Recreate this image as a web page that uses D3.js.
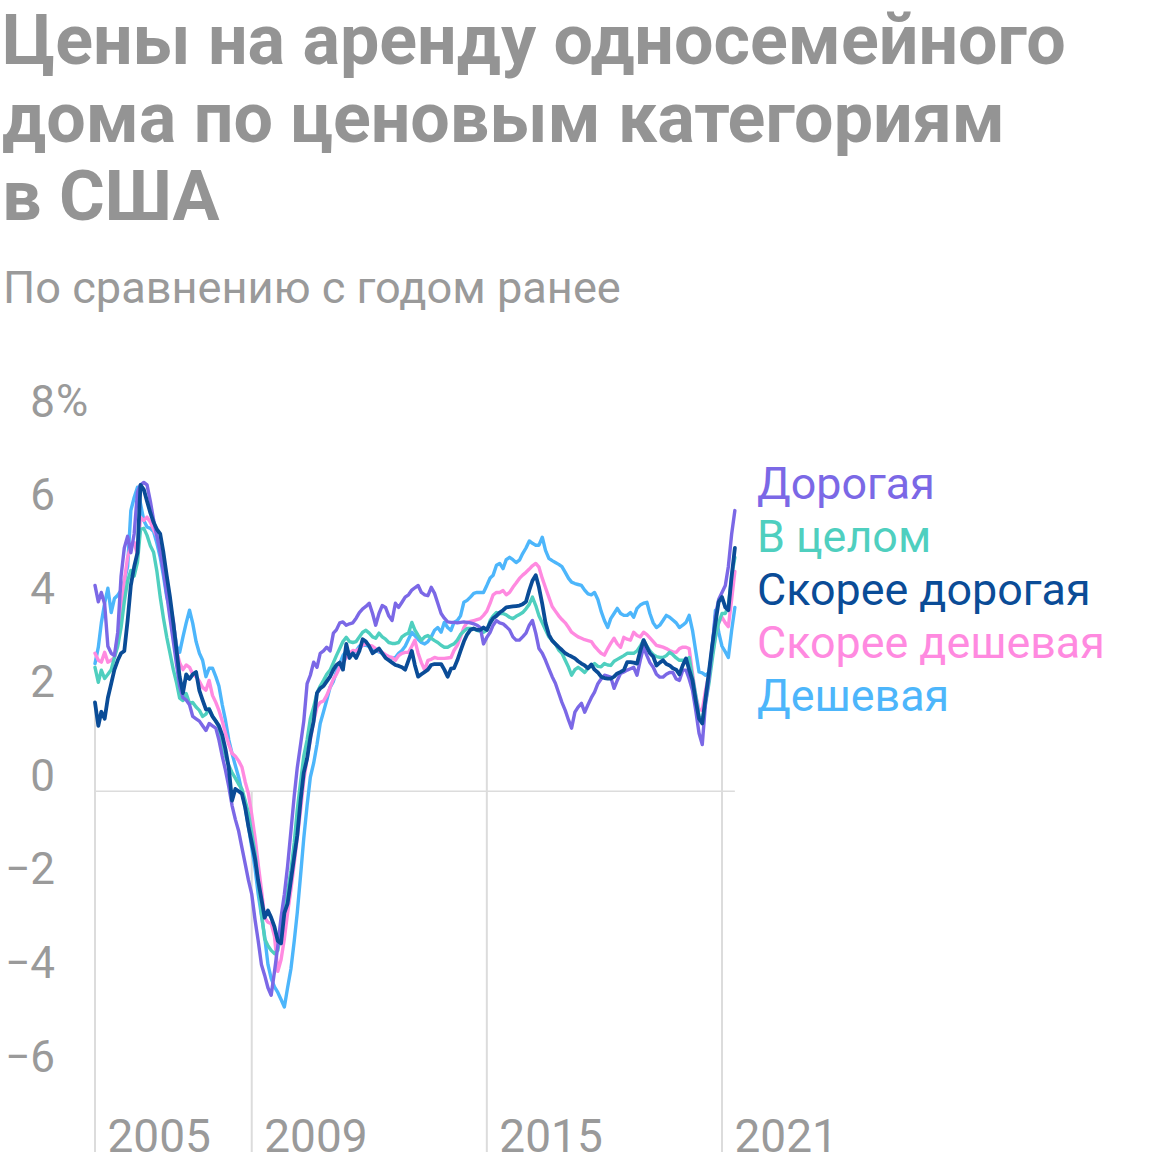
<!DOCTYPE html>
<html><head><meta charset="utf-8">
<script src="https://cdn.jsdelivr.net/npm/d3@7"></script>
<style>
body{margin:0;background:#fff}
svg{display:block}
text{font-family:Roboto,"Noto Sans",sans-serif}
</style>
</head><body>
<svg id="chart" width="1160" height="1168"></svg>
<script>
// Monthly data, Jan 2005 .. May 2021, % change year over year
const firstMonth = [2005, 0];

const expensive = [
 4.4, 4.05, 4.25, 4.0, 3.1, 2.95, 2.9, 3.4, 4.6, 5.2, 5.45, 5.1,
 5.5, 6.4, 6.55, 6.6, 6.55, 6.2, 5.8, 5.45, 5.1, 4.7, 4.2, 3.7,
 3.2, 2.7, 2.25, 2.0, 1.95, 1.85, 1.6, 1.55, 1.5, 1.4, 1.3, 1.45,
 1.4, 1.35, 1.1, 0.75, 0.45, 0.1, -0.3, -0.6, -0.85, -1.2, -1.55, -1.9,
 -2.2, -2.75, -3.18, -3.7, -3.93, -4.2, -4.36, -3.85, -3.3, -2.7, -2.2, -1.6,
 -0.85, -0.1, 0.5, 1.0, 1.5, 2.3, 2.48, 2.76, 2.65, 2.95, 3.0, 3.08,
 3.0, 3.38, 3.45, 3.6, 3.62, 3.55, 3.58, 3.6, 3.7, 3.82, 3.9, 3.95,
 4.02, 3.8, 3.55, 3.8, 3.97, 3.93, 3.75, 3.65, 4.02, 3.93, 4.04, 4.15,
 4.2, 4.3, 4.35, 4.4, 4.25, 4.2, 4.18, 4.36, 4.23, 4.02, 3.8, 3.7,
 3.62, 3.61, 3.61, 3.6, 3.61, 3.62, 3.61, 3.6, 3.58, 3.55, 3.5, 3.15,
 3.29, 3.4, 3.55, 3.65, 3.6, 3.58, 3.52, 3.45, 3.3, 3.23, 3.23, 3.3,
 3.38, 3.55, 3.65, 3.38, 3.05, 2.95, 2.8, 2.62, 2.45, 2.31, 2.1, 1.9,
 1.73, 1.52, 1.35, 1.69, 1.8, 1.88, 1.69, 1.85, 2.0, 2.12, 2.3, 2.4,
 2.48, 2.46, 2.44, 2.2, 2.37, 2.52, 2.55, 2.59, 2.62, 2.65, 2.48, 2.8,
 3.08, 2.9, 2.75, 2.65, 2.5, 2.44, 2.44, 2.5, 2.54, 2.54, 2.4, 2.37,
 2.59, 2.59, 2.4, 2.16, 1.73, 1.24, 1.0, 1.9, 2.4, 3.1, 3.75, 4.1,
 4.25, 4.4, 4.8, 5.5, 6.0
];

const overall = [
 2.65, 2.33, 2.59, 2.41, 2.5, 2.6, 2.86, 3.1, 3.5, 4.05, 4.5, 4.72,
 4.6, 4.9, 5.6, 5.62, 5.47, 5.25, 5.11, 4.7, 4.15, 3.7, 3.29, 2.95,
 2.6, 2.31, 1.99, 1.94, 2.09, 1.88, 1.9, 1.8, 1.73, 1.6, 1.65, 1.77,
 1.6, 1.5, 1.37, 1.0, 0.75, 0.55, 0.4, 0.28, 0.15, 0.05, -0.2, -0.47,
 -0.9, -1.33, -1.9, -2.6, -3.15, -3.3, -3.4, -3.47, -3.4, -3.0, -2.6, -2.15,
 -1.7, -1.1, -0.4, 0.2, 0.75, 1.1, 1.55, 1.8, 2.1, 2.25, 2.37, 2.5,
 2.59, 2.75, 2.9, 3.05, 3.2, 3.29, 3.2, 3.18, 3.2, 3.3, 3.4, 3.44,
 3.38, 3.3, 3.27, 3.38, 3.3, 3.25, 3.18, 3.16, 3.16, 3.18, 3.3, 3.35,
 3.38, 3.61, 3.45, 3.33, 3.23, 3.3, 3.33, 3.27, 3.22, 3.18, 3.12, 3.08,
 3.08, 3.12, 3.15, 3.23, 3.35, 3.42, 3.48, 3.48, 3.47, 3.44, 3.42, 3.4,
 3.44, 3.65, 3.75, 3.82, 3.8, 3.8, 3.77, 3.72, 3.69, 3.74, 3.78, 3.82,
 3.9, 4.0, 4.15, 3.97, 3.75, 3.6, 3.45, 3.3, 3.23, 3.15, 3.02, 2.95,
 2.8, 2.65, 2.48, 2.6, 2.65, 2.6, 2.54, 2.63, 2.68, 2.73, 2.67, 2.66,
 2.73, 2.7, 2.69, 2.78, 2.82, 2.86, 2.9, 2.95, 2.95, 2.95, 3.0, 3.1,
 3.23, 3.1, 3.0, 2.92, 2.88, 2.86, 2.86, 2.9, 2.97, 2.92, 2.85, 2.8,
 2.8, 2.8, 2.86, 2.44, 2.05, 1.6, 1.52, 1.88, 2.3, 2.8, 3.3, 3.6,
 3.8, 3.8, 3.97, 4.6, 5.0
];

const ratherExpensive = [
 1.9, 1.4, 1.7, 1.55, 2.0, 2.3, 2.6, 2.8, 2.95, 3.0, 3.65, 4.4,
 4.8, 5.1, 6.55, 6.45, 6.2, 5.95, 5.75, 5.6, 5.5, 5.1, 4.6, 4.15,
 3.6, 3.0, 2.45, 2.1, 2.5, 2.4, 2.5, 2.55, 2.15, 1.95, 1.75, 1.75,
 1.6, 1.5, 1.4, 1.2, 0.9, 0.5, -0.2, 0.05, 0.0, -0.05, -0.35, -0.75,
 -1.1, -1.45, -1.9, -2.3, -2.7, -2.55, -2.7, -2.9, -3.2, -3.25, -2.6, -2.4,
 -1.9, -1.4, -0.95, -0.2, 0.4, 0.7, 1.15, 1.5, 2.1, 2.2, 2.25, 2.35,
 2.45, 2.6, 2.7, 2.75, 2.6, 3.15, 2.85, 2.95, 2.85, 3.0, 3.25, 3.2,
 3.1, 2.95, 3.0, 3.05, 2.95, 2.85, 2.8, 2.75, 2.7, 2.68, 2.65, 2.6,
 2.8, 3.0, 2.7, 2.45, 2.5, 2.55, 2.6, 2.7, 2.72, 2.72, 2.72, 2.6,
 2.45, 2.62, 2.63, 2.8, 3.0, 3.2, 3.35, 3.45, 3.48, 3.45, 3.45, 3.5,
 3.45, 3.6, 3.7, 3.75, 3.82, 3.87, 3.93, 3.94, 3.95, 3.96, 3.97, 4.0,
 4.05, 4.3, 4.5, 4.62, 4.36, 4.0, 3.6, 3.35, 3.22, 3.15, 3.08, 3.02,
 2.95, 2.91, 2.88, 2.84, 2.78, 2.73, 2.69, 2.63, 2.71, 2.6, 2.54, 2.45,
 2.42, 2.41, 2.41, 2.45, 2.52, 2.55, 2.59, 2.76, 2.76, 2.75, 2.73, 3.0,
 3.23, 3.08, 2.95, 2.88, 2.69, 2.75, 2.8, 2.72, 2.69, 2.63, 2.6, 2.5,
 2.69, 2.84, 2.6, 2.37, 1.94, 1.55, 1.45, 2.0, 2.55, 3.1, 3.6, 4.05,
 4.15, 3.93, 3.87, 4.6, 5.2
];

const ratherCheap = [
 2.95, 2.8, 2.76, 2.97, 2.76, 2.8, 2.86, 3.3, 3.8, 4.5, 5.0, 5.25,
 5.32, 5.05, 5.86, 5.79, 5.86, 5.75, 5.6, 5.45, 5.2, 4.85, 4.5, 4.0,
 3.65, 3.0, 2.75, 2.6, 2.7, 2.65, 2.5, 2.45, 2.35, 2.22, 2.16, 2.37,
 2.05, 1.9, 1.73, 1.5, 1.24, 1.0, 0.81, 0.75, 0.65, 0.52, 0.2, -0.05,
 -0.5, -1.0, -1.54, -2.1, -2.7, -2.8, -2.83, -3.1, -3.85, -3.6, -3.15, -2.6,
 -2.1, -1.54, -1.0, -0.4, 0.24, 0.7, 1.1, 1.5, 1.8, 1.9, 1.93, 2.05,
 2.22, 2.4, 2.5, 2.65, 2.75, 2.86, 2.95, 3.01, 3.0, 3.05, 3.12, 3.16,
 3.12, 3.1, 3.05, 3.0, 2.97, 2.92, 2.88, 2.86, 2.8, 2.9, 2.95, 2.97,
 2.97, 3.1, 3.23, 2.95, 2.75, 2.59, 2.8, 2.82, 2.86, 2.84, 2.84, 2.84,
 2.85, 2.86, 3.01, 3.12, 3.3, 3.5, 3.61, 3.63, 3.65, 3.67, 3.69, 3.76,
 3.85, 4.02, 4.2, 4.25, 4.25, 4.29, 4.2, 4.25, 4.36, 4.45, 4.55, 4.62,
 4.68, 4.75, 4.82, 4.87, 4.79, 4.55, 4.35, 4.15, 3.95, 3.85, 3.75, 3.67,
 3.6, 3.5, 3.4, 3.35, 3.3, 3.27, 3.24, 3.22, 3.2, 3.1, 3.02, 2.95,
 2.91, 3.05, 3.16, 3.27, 3.15, 3.08, 3.29, 3.25, 3.23, 3.4, 3.33, 3.3,
 3.4, 3.35, 3.28, 3.2, 3.12, 3.1, 3.08, 3.05, 3.01, 2.98, 2.97, 3.05,
 3.08, 3.08, 3.05, 2.52, 2.05, 1.75, 1.73, 2.16, 2.5, 2.9, 3.3, 3.6,
 3.72, 3.6, 3.52, 4.1, 4.7
];

const cheap = [
 2.73, 3.08, 3.6, 4.02, 4.34, 3.82, 4.12, 4.19, 4.3, 4.5, 4.8, 6.0,
 6.28, 6.5, 6.15, 5.79, 5.65, 5.62, 5.55, 5.3, 5.0, 4.6, 4.15, 3.9,
 3.6, 3.1, 2.97, 3.3, 3.6, 3.87, 3.59, 3.2, 2.95, 2.8, 2.45, 2.63,
 2.63, 2.45, 2.25, 1.85, 1.52, 1.1, 0.81, 0.55, 0.3, 0.0, -0.34, -0.75,
 -1.2, -1.65, -2.18, -2.65, -3.1, -3.7, -4.0, -4.18, -4.3, -4.45, -4.61, -4.2,
 -3.8, -3.2, -2.6, -1.8, -1.0, -0.3, 0.3, 0.6, 1.0, 1.45, 1.7, 1.95,
 2.22, 2.35, 2.55, 2.73, 2.9, 3.0, 2.97, 2.95, 3.0, 3.1, 3.12, 3.12,
 3.1, 3.05, 3.01, 2.98, 2.95, 2.9, 2.86, 2.84, 2.86, 2.95, 3.01, 3.1,
 3.25, 3.4, 3.33, 3.25, 3.18, 3.15, 3.2, 3.3, 3.44, 3.5, 3.4, 3.61,
 3.5, 3.44, 3.61, 3.65, 3.75, 4.04, 4.08, 4.15, 4.23, 4.25, 4.25, 4.25,
 4.4, 4.56, 4.62, 4.83, 4.87, 4.76, 4.95, 5.0, 4.95, 4.89, 4.94, 5.08,
 5.2, 5.35, 5.3, 5.26, 5.26, 5.43, 5.15, 4.98, 4.93, 4.89, 4.85, 4.8,
 4.68, 4.55, 4.47, 4.44, 4.42, 4.4, 4.3, 4.22, 4.2, 4.25, 4.1, 3.85,
 3.65, 3.5, 3.69, 3.8, 3.91, 3.8, 3.76, 3.76, 3.82, 3.72, 3.91, 3.98,
 4.02, 4.04, 3.8, 3.6, 3.5, 3.55, 3.65, 3.76, 3.72, 3.66, 3.6, 3.5,
 3.55, 3.61, 3.76, 3.44, 3.0, 2.55, 2.53, 2.48, 2.54, 3.01, 3.87, 3.4,
 3.1, 2.98, 2.86, 3.44, 3.93
];

const seriesNames = ["Дорогая", "В целом", "Скорее дорогая", "Скорее дешевая", "Дешевая"];
const seriesColors = ["#7b68e6", "#4fcfbf", "#0a4c97", "#ff8ae0", "#4db6fb"];
const seriesValues = [expensive, overall, ratherExpensive, ratherCheap, cheap];
const drawOrder = [4, 3, 1, 0, 2];

const yTicks = [8, 6, 4, 2, 0, -2, -4, -6];
const xTickYears = [2005, 2009, 2015, 2021];

const titleLines = ["Цены на аренду односемейного", "дома по ценовым категориям", "в США"];
const subtitleText = "По сравнению с годом ранее";

// ---------- drawing ----------
const svg = d3.select("#chart");
const grey = "#949494";

const dates = d3.range(expensive.length).map(i => new Date(firstMonth[0], firstMonth[1] + i, 1));

const x = d3.scaleTime()
  .domain([new Date(2005, 0, 1), new Date(2021, 0, 1)])
  .range([95, 722]);
const y = d3.scaleLinear().domain([-6, 8]).range([1072, 417]);

function fitText(sel, target) {
  const fs = parseFloat(sel.attr("font-size"));
  const w = sel.node().getComputedTextLength();
  return fs * target / w;
}

// Title
const title = svg.append("g");
const tl = title.selectAll("text").data(titleLines).join("text")
  .attr("x", 2).attr("y", (d, i) => 64 + i * 78)
  .attr("font-size", 60).attr("font-weight", 700).attr("fill", grey)
  .text(d => d);
const tfs = fitText(d3.select(tl.nodes()[0]), 1064);
tl.attr("font-size", tfs);

// Subtitle
const st = svg.append("text").attr("x", 3).attr("y", 303)
  .attr("font-size", 40).attr("fill", "#9a9a9a").text(subtitleText);
st.attr("font-size", fitText(st, 618));

// Zero line
svg.append("line")
  .attr("x1", x(dates[0])).attr("x2", x(dates[dates.length - 1]))
  .attr("y1", y(0)).attr("y2", y(0))
  .attr("stroke", "#dcdcdc").attr("stroke-width", 1.5);

// Year lines (from bottom up to lowest series / zero)
xTickYears.forEach(yr => {
  const idx = (yr - firstMonth[0]) * 12;
  const lowest = d3.min(seriesValues, s => s[idx]);
  svg.append("line")
    .attr("x1", x(new Date(yr, 0, 1))).attr("x2", x(new Date(yr, 0, 1)))
    .attr("y1", 1152).attr("y2", y(Math.max(0, lowest)))
    .attr("stroke", "#dcdcdc").attr("stroke-width", 2);
});

// X axis labels
const xAxis = d3.axisBottom(x)
  .tickValues(xTickYears.map(yr => new Date(yr, 0, 1)))
  .tickSize(0).tickFormat(d3.timeFormat("%Y"));
const gx = svg.append("g").attr("transform", "translate(0,1152)").call(xAxis);
gx.select(".domain").remove();
gx.selectAll("text")
  .attr("text-anchor", "start").attr("x", 12).attr("y", 0).attr("dy", 0)
  .attr("font-size", 46).attr("fill", "#9a9a9a")
  .attr("font-family", "Roboto, 'Noto Sans', sans-serif");

// Y axis labels
const yAxis = d3.axisLeft(y).tickValues(yTicks).tickSize(0).tickPadding(0)
  .tickFormat(d => d < 0 ? "\u2212" + Math.abs(d) : String(d));
const gy = svg.append("g").attr("transform", "translate(55,0)").call(yAxis);
gy.select(".domain").remove();
gy.selectAll("text")
  .attr("x", 0).attr("dy", 0).attr("y", -1)
  .attr("font-size", 44).attr("fill", "#9a9a9a")
  .attr("font-family", "Roboto, 'Noto Sans', sans-serif");
svg.append("text")
  .attr("x", 56).attr("y", y(yTicks[0]) - 1)
  .attr("font-size", 44).attr("fill", "#9a9a9a").text("%");

// Lines
const line = d3.line().x((d, i) => x(dates[i])).y(d => y(d));
drawOrder.forEach(k => {
  svg.append("path")
    .datum(seriesValues[k])
    .attr("d", line)
    .attr("fill", "none")
    .attr("stroke", seriesColors[k])
    .attr("stroke-width", k === 2 ? 3.8 : 3.4)
    .attr("stroke-linejoin", "round")
    .attr("stroke-linecap", "round");
});

// Legend
const lg = svg.append("g").selectAll("text").data(seriesNames).join("text")
  .attr("x", 757).attr("y", (d, i) => 499 + i * 53)
  .attr("font-size", 38).attr("fill", (d, i) => seriesColors[i])
  .text(d => d);
const lfs = fitText(d3.select(lg.nodes()[3]), 348);
lg.attr("font-size", lfs);
</script>
</body></html>
